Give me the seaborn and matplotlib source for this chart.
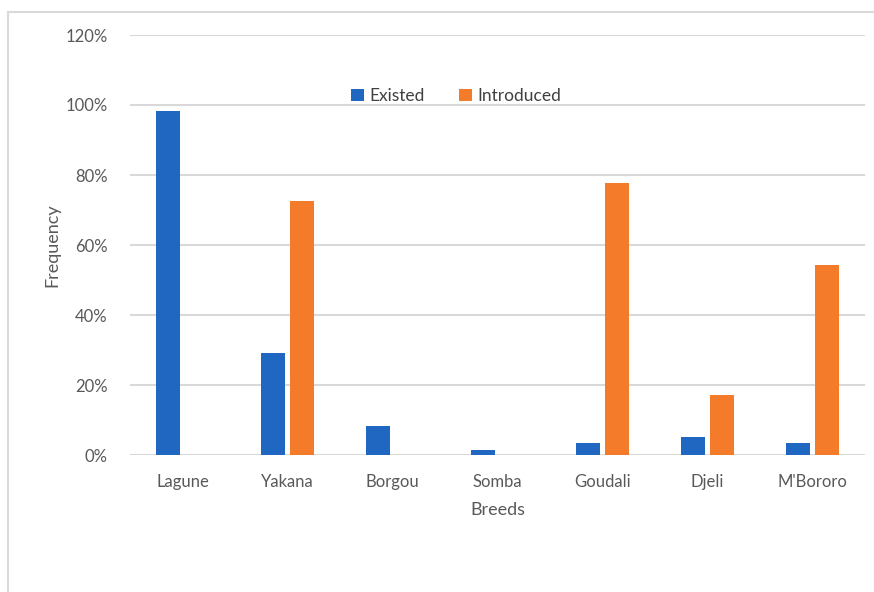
import matplotlib
matplotlib.use("Agg")
import matplotlib.pyplot as plt
import seaborn as sns
import pandas as pd
from matplotlib.patches import Rectangle
from matplotlib.ticker import PercentFormatter, MultipleLocator

breeds = ["Lagune", "Yakana", "Borgou", "Somba", "Goudali", "Djeli", "M'Bororo"]
existed = [0.984, 0.292, 0.084, 0.015, 0.035, 0.052, 0.035]
introduced = [0.0, 0.725, 0.0, 0.0, 0.777, 0.172, 0.543]
series = ["Existed", "Introduced"]
colors = ["#2067C2", "#F47B2A"]

df = pd.DataFrame({
    "Breeds": breeds * 2,
    "Frequency": existed + introduced,
    "Series": [series[0]] * len(breeds) + [series[1]] * len(breeds),
})

sns.set_theme(style="white")
plt.rcParams['font.family'] = ['Lato', 'DejaVu Sans']

W, H = 874, 592
fig = plt.figure(figsize=(W / 100, H / 100), dpi=100)
ax = fig.add_axes([130 / W, (H - 455) / H, (865 - 130) / W, (455 - 35) / H])

# outer light frame
fig.patches.append(Rectangle((8 / W, -0.1), 1.2, (H - 12) / H + 0.1,
                             transform=fig.transFigure, fill=False,
                             edgecolor="#D9D9D9", linewidth=1.5, zorder=0))

sns.barplot(data=df, x="Breeds", y="Frequency", hue="Series",
            palette=colors, saturation=1, width=0.56, gap=0.18, ax=ax, zorder=3,
            linewidth=0, errorbar=None)

ax.set_ylim(0, 1.2)
ax.set_xlim(-0.5, len(breeds) - 0.5)
ax.yaxis.set_major_locator(MultipleLocator(0.2))
ax.yaxis.set_major_formatter(PercentFormatter(1.0, decimals=0))
ax.grid(axis="y", color="#D9D9D9", linewidth=1.5, zorder=0)
ax.set_axisbelow(True)
for s in ax.spines.values():
    s.set_visible(False)
ax.tick_params(axis="both", length=0, labelsize=12, colors="#595959")
ax.tick_params(axis="x", pad=14)
ax.tick_params(axis="y", pad=16)
ax.set_xlabel("Breeds", fontsize=13, color="#595959", labelpad=8)
ax.set_ylabel("Frequency", fontsize=13, color="#595959", labelpad=4)

leg = ax.legend(loc="center left", bbox_to_anchor=(221 / 735, (455 - 96) / 420),
                ncol=2, frameon=False, fontsize=12.5, borderpad=0, borderaxespad=0,
                handlelength=0.75, handleheight=0.75,
                handletextpad=0.3, columnspacing=2.0)
for t in leg.get_texts():
    t.set_color("#404040")

fig.savefig("out.png", dpi=100)
